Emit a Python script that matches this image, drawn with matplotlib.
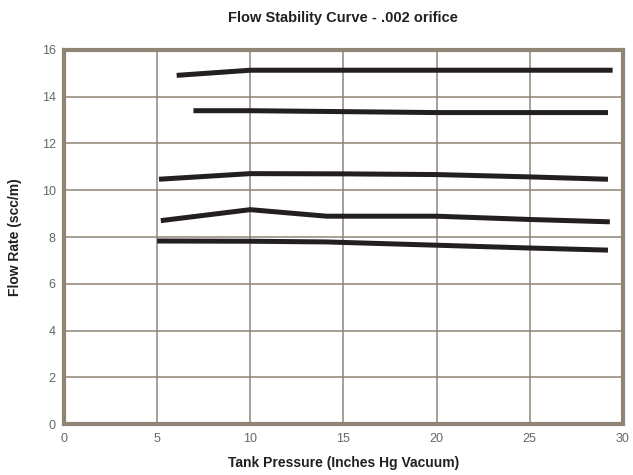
import matplotlib.pyplot as plt

plt.rcParams['font.family'] = ['Liberation Sans', 'DejaVu Sans']

# curves: (tank pressure, flow rate)
x1 = [6.05, 10.0, 15.0, 20.0, 25.0, 29.45]
y1 = [14.91, 15.13, 15.13, 15.13, 15.13, 15.13]

x2 = [6.95, 10.0, 15.0, 20.0, 25.0, 29.2]
y2 = [13.40, 13.40, 13.36, 13.32, 13.32, 13.32]

x3 = [5.1, 10.0, 15.0, 20.0, 25.0, 29.2]
y3 = [10.47, 10.71, 10.70, 10.67, 10.57, 10.47]

x4 = [5.2, 10.0, 14.1, 20.0, 25.0, 29.3]
y4 = [8.70, 9.17, 8.89, 8.89, 8.75, 8.65]

x5 = [5.0, 10.0, 14.1, 20.0, 25.0, 29.2]
y5 = [7.83, 7.82, 7.79, 7.65, 7.53, 7.44]

xticks = [0, 5, 10, 15, 20, 25, 30]
yticks = [0, 2, 4, 6, 8, 10, 12, 14, 16]

grid_col = '#8f8476'
fig = plt.figure(figsize=(6.33, 4.75), dpi=100)
ax = fig.add_axes([0.101, 0.107, 0.883, 0.788])

for xs, ys in [(x1, y1), (x2, y2), (x3, y3), (x4, y4), (x5, y5)]:
    ax.plot(xs, ys, color='#231f20', lw=3.6, solid_capstyle='butt', zorder=3)

ax.set_xlim(0, 30)
ax.set_ylim(0, 16)
ax.set_xticks(xticks)
ax.set_yticks(yticks)
ax.grid(True, color=grid_col, lw=1.1)
ax.set_axisbelow(True)
for s in ax.spines.values():
    s.set_color(grid_col)
    s.set_linewidth(3)
ax.tick_params(length=0, labelsize=9, labelcolor='#666666', pad=6)

ax.set_title('Flow Stability Curve - .002 orifice', fontsize=10.5, fontweight='bold',
             color='#231f20', pad=20)
ax.set_xlabel('Tank Pressure (Inches Hg Vacuum)', fontsize=10, fontweight='bold',
              color='#231f20', labelpad=8)
ax.set_ylabel('Flow Rate (scc/m)', fontsize=10, fontweight='bold', color='#231f20',
              labelpad=14)

fig.savefig('out.png', dpi=100)
